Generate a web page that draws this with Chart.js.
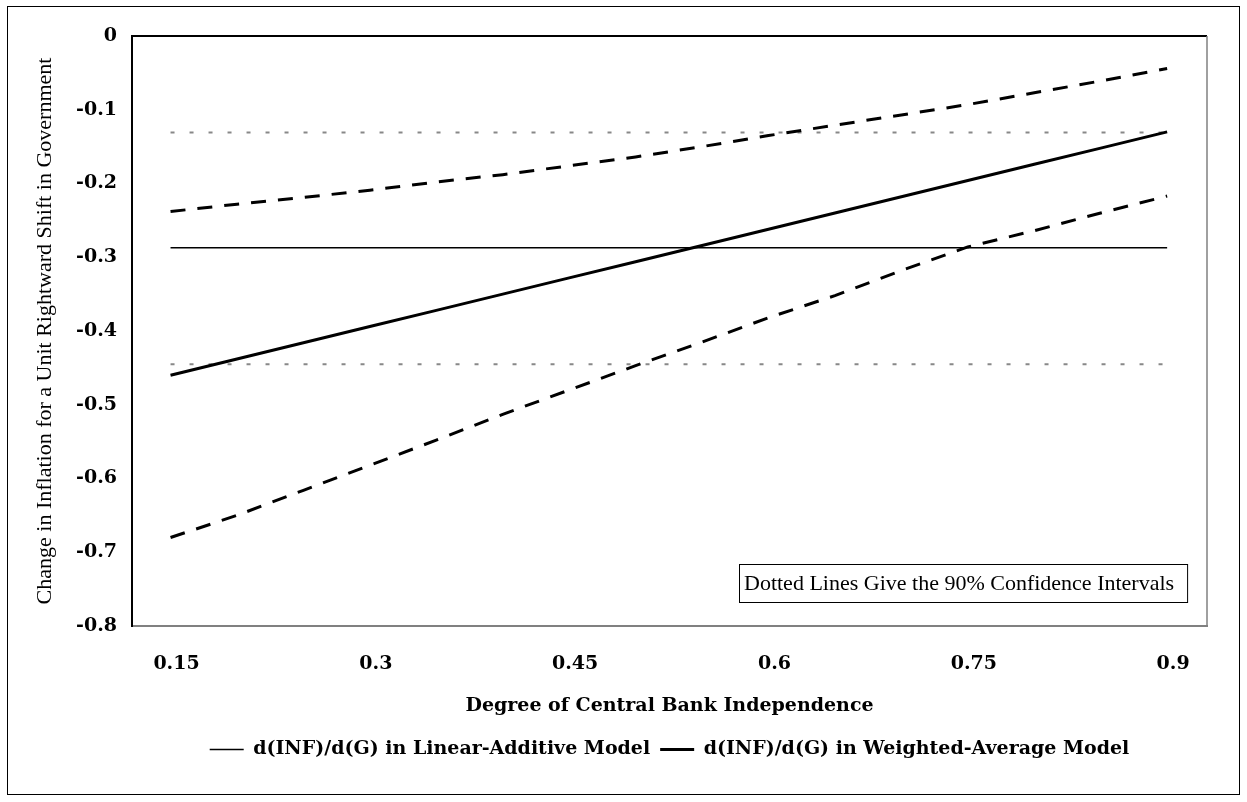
<!DOCTYPE html>
<html>
<head>
<meta charset="utf-8">
<script src="https://cdn.jsdelivr.net/npm/chart.js@4.4.1/dist/chart.umd.min.js"></script>
<style>
    html, body { margin: 0; padding: 0; background: #fff; }
    #wrap { position: relative; width: 1247px; height: 802px; }
    #moldura { position: absolute; left: 7px; top: 6px; width: 1233px; height: 789px; border: 1px solid #000; box-sizing: border-box; pointer-events: none; }
    canvas { position: absolute; left: 0; top: 0; }
</style>
</head>
<body>
<div id="wrap">
    <canvas id="grafico" width="1247" height="802"></canvas>
    <div id="moldura"></div>
</div>
<script>
// valores do eixo x (grau de independencia do banco central)
var xValores = [0.15, 0.2, 0.25, 0.3, 0.35, 0.4, 0.45, 0.5, 0.55, 0.6, 0.65, 0.7, 0.75, 0.8, 0.85, 0.9];
var xExtremos = [0.15, 0.9];
var xTicks = [0.15, 0.3, 0.45, 0.6, 0.75, 0.9];
var xTickLabels = ['0.15', '0.3', '0.45', '0.6', '0.75', '0.9'];
var yTicks = [0, -0.1, -0.2, -0.3, -0.4, -0.5, -0.6, -0.7, -0.8];
var yTickLabels = ['0', '-0.1', '-0.2', '-0.3', '-0.4', '-0.5', '-0.6', '-0.7', '-0.8'];

// modelo linear-aditivo (constante) e seu intervalo de 90%
var linearAditivo = [-0.287, -0.287];
var linearSuperior = [-0.131, -0.131];
var linearInferior = [-0.445, -0.445];

// modelo de media ponderada e seu intervalo
var mediaPonderada = [-0.460, -0.438, -0.416, -0.394, -0.372, -0.350, -0.328, -0.306, -0.284, -0.262, -0.240, -0.218, -0.196, -0.174, -0.152, -0.130];
var mediaSuperior = [-0.238, -0.228, -0.219, -0.209, -0.198, -0.188, -0.176, -0.164, -0.150, -0.135, -0.121, -0.107, -0.093, -0.077, -0.061, -0.044];
var mediaInferior = [-0.680, -0.650, -0.616, -0.582, -0.548, -0.513, -0.480, -0.447, -0.415, -0.382, -0.352, -0.318, -0.286, -0.264, -0.240, -0.217];

var legendas = ['d(INF)/d(G) in Linear-Additive Model', 'd(INF)/d(G) in Weighted-Average Model'];
var tituloX = 'Degree of Central Bank Independence';
var tituloY = 'Change in Inflation for a Unit Rightward Shift in Government';
var notaTexto = 'Dotted Lines Give the 90% Confidence Intervals';

function pares(xs, ys) {
    return xs.map(function(x, i) { return { x: x, y: ys[i] }; });
}

var fonteNegrito = { family: '"DejaVu Serif"', size: 19, weight: 'bold' };

var molduraPlugin = {
    id: 'molduraPlot',
    afterDatasetsDraw: function(chart) {
        var a = chart.chartArea;
        var ctx = chart.ctx;
        ctx.save();
        ctx.strokeStyle = '#000';
        ctx.lineWidth = 2;
        ctx.beginPath(); ctx.moveTo(a.left, a.top); ctx.lineTo(a.right, a.top); ctx.stroke();
        ctx.strokeStyle = '#808080';
        ctx.lineWidth = 1.5;
        ctx.beginPath(); ctx.moveTo(a.right, a.top); ctx.lineTo(a.right, a.bottom); ctx.stroke();

        // caixa de nota
        ctx.font = '22px "Liberation Serif"';
        var w = ctx.measureText(notaTexto).width + 18;
        var h = 38;
        var x0 = Math.round(a.right - 20 - w);
        var y0 = Math.round(a.bottom - 24 - h);
        ctx.fillStyle = '#fff';
        ctx.fillRect(x0, y0, w, h);
        ctx.strokeStyle = '#000';
        ctx.lineWidth = 1;
        ctx.strokeRect(x0 + 0.5, y0 + 0.5, w, h);
        ctx.fillStyle = '#000';
        ctx.textAlign = 'left';
        ctx.textBaseline = 'middle';
        ctx.fillText(notaTexto, x0 + 5, y0 + h / 2 + 1);
        ctx.restore();
    }
};

new Chart(document.getElementById('grafico').getContext('2d'), {
    type: 'line',
    data: {
        datasets: [
            { label: legendas[0], data: pares(xExtremos, linearAditivo), borderColor: '#000', borderWidth: 1.5, pointRadius: 0, order: 3 },
            { label: legendas[1], data: pares(xValores, mediaPonderada), borderColor: '#000', borderWidth: 3, pointRadius: 0, order: 1 },
            { label: 'sup', data: pares(xValores, mediaSuperior), borderColor: '#000', borderWidth: 3, borderDash: [15, 12], pointRadius: 0, order: 2 },
            { label: 'inf', data: pares(xValores, mediaInferior), borderColor: '#000', borderWidth: 3, borderDash: [15, 12], pointRadius: 0, order: 2 },
            { label: 'lsup', data: pares(xExtremos, linearSuperior), borderColor: '#888', borderWidth: 2, borderDash: [4, 15], pointRadius: 0, order: 4 },
            { label: 'linf', data: pares(xExtremos, linearInferior), borderColor: '#888', borderWidth: 2, borderDash: [4, 15], pointRadius: 0, order: 4 }
        ]
    },
    options: {
        responsive: false,
        animation: false,
        layout: { padding: { top: 36, right: 40, left: 0, bottom: 33 } },
        plugins: {
            tooltip: { enabled: false },
            legend: {
                position: 'bottom',
                fullSize: false,
                labels: {
                    filter: function(item) { return item.datasetIndex < 2; },
                    sort: function(a, b) { return a.datasetIndex - b.datasetIndex; },
                    color: '#000',
                    font: fonteNegrito,
                    usePointStyle: true,
                    pointStyle: 'line',
                    pointStyleWidth: 34,
                    boxWidth: 34,
                    padding: 10
                }
            }
        },
        scales: {
            x: {
                type: 'linear',
                min: 0.121,
                max: 0.93,
                grid: { display: false, drawTicks: false },
                border: { display: true, color: '#808080', width: 2 },
                afterBuildTicks: function(scale) {
                    scale.ticks = xTicks.map(function(v) { return { value: v }; });
                },
                afterFit: function(scale) { scale.height = 104; },
                ticks: {
                    color: '#000',
                    font: fonteNegrito,
                    padding: 27,
                    labelOffset: 6,
                    maxRotation: 0,
                    callback: function(v, i) { return xTickLabels[i]; }
                },
                title: {
                    display: true,
                    text: tituloX,
                    color: '#000',
                    font: fonteNegrito,
                    padding: { top: 0, bottom: 13 }
                }
            },
            y: {
                min: -0.8,
                max: 0,
                grid: { display: false, drawTicks: false },
                border: { display: true, color: '#000', width: 2 },
                afterBuildTicks: function(scale) {
                    scale.ticks = yTicks.map(function(v) { return { value: v }; });
                },
                afterFit: function(scale) { scale.width = 132; },
                ticks: {
                    color: '#000',
                    font: fonteNegrito,
                    padding: 15,
                    callback: function(v, i) { return yTickLabels[i]; }
                },
                title: {
                    display: true,
                    text: tituloY,
                    color: '#000',
                    font: { family: '"Liberation Serif"', size: 22 },
                    padding: { top: 32, bottom: 0 }
                }
            }
        }
    },
    plugins: [molduraPlugin]
});
</script>
</body>
</html>
